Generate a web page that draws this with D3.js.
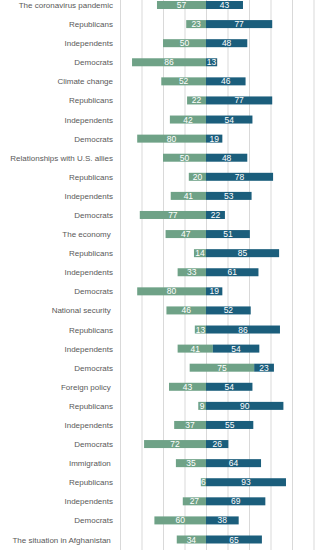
<!DOCTYPE html>
<html>
<head>
<meta charset="utf-8">
<script src="https://cdn.jsdelivr.net/npm/d3@7"></script>
<style>
  body { margin: 0; background: #fff; }
  text { font-family: "Liberation Sans", Arial, sans-serif; }
</style>
</head>
<body>
<div id="chart"></div>
<script>
// row labels, top to bottom (trailing spaces are in the original)
const labels = [
  "The coronavirus pandemic", "Republicans", "Independents", "Democrats",
  "Climate change", "Republicans", "Independents", "Democrats",
  "Relationships with U.S. allies", "Republicans", "Independents", "Democrats",
  "The economy ", "Republicans", "Independents", "Democrats",
  "National security ", "Republicans", "Independents", "Democrats",
  "Foreign policy ", "Republicans", "Independents", "Democrats",
  "Immigration ", "Republicans", "Independents", "Democrats",
  "The situation in Afghanistan "
];
// green (left) segment values
const greenVals = [57, 23, 50, 86, 52, 22, 42, 80, 50, 20, 41, 77, 47, 14, 33, 80,
  46, 13, 41, 75, 43, 9, 37, 72, 35, 6, 27, 60, 34];
// blue (right) segment values
const blueVals = [43, 77, 48, 13, 46, 77, 54, 19, 48, 78, 53, 22, 51, 85, 61, 19,
  52, 86, 54, 23, 54, 90, 55, 26, 64, 93, 69, 38, 65];
// where the two segments meet (0 except two rows that are shifted in the original)
const splitAt = [0, 0, 0, 0, 0, 0, 0, 0, 0, 0, 0, 0, 0, 0, 0, 0,
  0, 0, 8, 56, 0, 0, 0, 0, 0, 0, 0, 0, 0];
const gridTicks = [-100, -75, -50, -25, 0, 25, 50, 75, 100, 125];

let width = 330, height = 550;
let barH = 8;

let svg = d3.select("#chart").append("svg")
  .attr("width", width)
  .attr("height", height);

let rows = labels.map((l, i) => ({
  i: i, label: l, green: greenVals[i], blue: blueVals[i], split: splitAt[i]
}));

let x = d3.scaleLinear()
  .domain([-100, 125])
  .range([120, 313.5]);

let y = d3.scalePoint()
  .domain(rows.map(d => d.i))
  .range([5, 539.5]);

// vertical grid lines
svg.append("g")
  .attr("transform", "translate(0,0)")
  .call(d3.axisBottom(x).tickValues(gridTicks).tickSize(height).tickFormat(""))
  .call(g => g.select(".domain").remove())
  .call(g => g.selectAll(".tick line").attr("stroke", "#d9d9d9").attr("stroke-width", 1));

// green segments
svg.selectAll(".green")
  .data(rows)
  .enter()
  .append("rect")
  .attr("class", "green")
  .attr("fill", "#6fa287")
  .attr("x", d => x(d.split - d.green))
  .attr("width", d => x(d.split) - x(d.split - d.green))
  .attr("y", d => y(d.i) - barH / 2)
  .attr("height", barH);

// blue segments
svg.selectAll(".blue")
  .data(rows)
  .enter()
  .append("rect")
  .attr("class", "blue")
  .attr("fill", "#1b5e7c")
  .attr("x", d => x(d.split))
  .attr("width", d => x(d.split + d.blue) - x(d.split))
  .attr("y", d => y(d.i) - barH / 2)
  .attr("height", barH);

// value labels
svg.selectAll(".gval")
  .data(rows)
  .enter()
  .append("text")
  .attr("x", d => (x(d.split - d.green) + x(d.split)) / 2)
  .attr("y", d => y(d.i) + 3)
  .attr("text-anchor", "middle")
  .attr("font-size", "8.5px")
  .attr("fill", "#fff")
  .text(d => d.green);

svg.selectAll(".bval")
  .data(rows)
  .enter()
  .append("text")
  .attr("x", d => (x(d.split) + x(d.split + d.blue)) / 2)
  .attr("y", d => y(d.i) + 3)
  .attr("text-anchor", "middle")
  .attr("font-size", "8.5px")
  .attr("fill", "#fff")
  .text(d => d.blue);

// row labels
svg.selectAll(".label")
  .data(rows)
  .enter()
  .append("text")
  .attr("class", "label")
  .attr("x", 113)
  .attr("y", d => y(d.i) + 3)
  .attr("text-anchor", "end")
  .attr("font-size", "8px")
  .attr("fill", "#595959")
  .style("white-space", "pre")
  .text(d => d.label);
</script>
</body>
</html>
